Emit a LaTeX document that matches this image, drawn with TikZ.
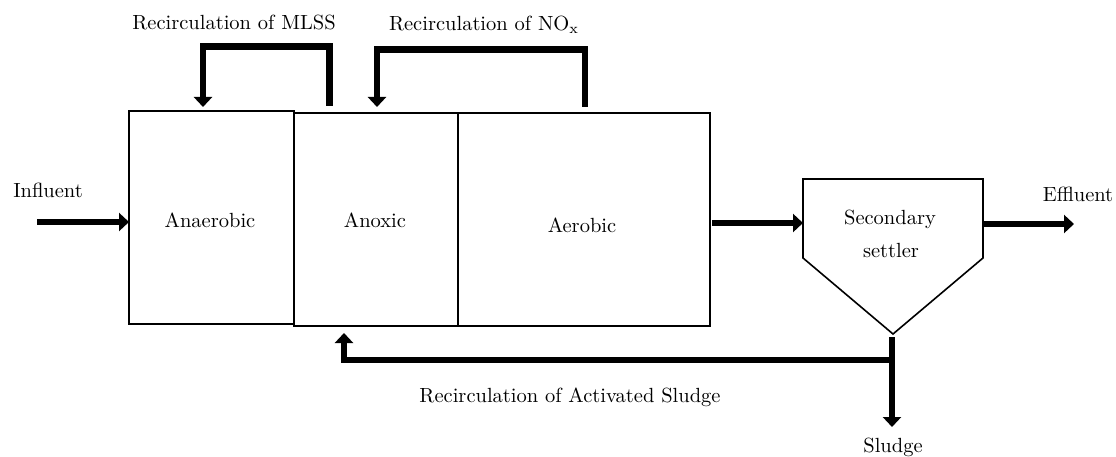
\documentclass[tikz,border=0pt]{standalone}
\usepackage{graphicx}
\usetikzlibrary{arrows.meta}
\newcommand{\bigtxt}[1]{\scalebox{2.05}{#1}}
\begin{document}
\begin{tikzpicture}[x=1pt,y=-1pt,
  tank/.style={draw,line width=1.8pt,inner sep=0pt,outer sep=0pt},
  flow/.style={line width=6.5pt,line join=miter,-{Triangle[width=18pt,length=10pt]}},
  lbl/.style={anchor=base,inner sep=0pt}]
\useasboundingbox (0,0) rectangle (1116,457);

% reactor tanks
\node[tank,minimum width=165pt,minimum height=213pt] (anaerobic) at (211.5,217.5) {};
\node[tank,minimum width=164pt,minimum height=213pt] (anoxic) at (376,219.5) {};
\node[tank,minimum width=252pt,minimum height=213pt] (aerobic) at (584,219.5) {};

% secondary settler (hopper outline)
\draw[line width=1.6pt,line join=miter] (803,179) -- (983,179) -- (983,258) -- (893,334) -- (803,258) -- cycle;
\coordinate (settlerW) at (803,223);
\coordinate (settlerE) at (983,224);
\coordinate (settlerTip) at (892,337);

% labels
\node[lbl] (tA) at (210,228) {\bigtxt{Anaerobic}};
\node[lbl] (tB) at (375,228) {\bigtxt{Anoxic}};
\node[lbl] (tC) at (582,233) {\bigtxt{Aerobic}};
\node[lbl] (tS1) at (890,225) {\bigtxt{Secondary}};
\node[lbl] (tS2) at (891,257) {\bigtxt{settler}};
\node[lbl] (tIn) at (48,197) {\bigtxt{Influent}};
\node[lbl] (tOut) at (1078,202) {\bigtxt{Effluent}};
\node[lbl] (tMLSS) at (234,30) {\bigtxt{Recirculation of MLSS}};
\node[lbl] (tNOx) at (484,30.5) {\bigtxt{Recirculation of NO$_\mathrm{x}$}};
\node[lbl] (tRAS) at (570,402) {\bigtxt{Recirculation of Activated Sludge}};
\node[lbl] (tSl) at (893,452) {\bigtxt{Sludge}};

% main flow line
\coordinate (inStart) at (37,222);
\draw[flow] (inStart) -- (inStart -| anaerobic.west);
\coordinate (aerOut) at (712,223);
\draw[flow] (aerOut) -- (settlerW);
\coordinate (effEnd) at (1074,224);
\draw[flow] (settlerE) -- (effEnd);

% internal recycles
\coordinate (mlssFrom) at (329.5,106);
\coordinate (mlssTo) at (203,107);
\draw[flow] (mlssFrom) -- (329.5,46.5) -- (203,46.5) -- (mlssTo);
\coordinate (noxFrom) at (585,107);
\coordinate (noxTo) at (377,107);
\draw[flow] (noxFrom) -- (585,49.5) -- (377,49.5) -- (noxTo);

% sludge withdrawal and return activated sludge
\coordinate (sludgeEnd) at (892,427);
\draw[flow] (settlerTip) -- (sludgeEnd);
\coordinate (rasJoin) at (892,360);
\coordinate (rasTo) at (344,333);
\draw[flow] (rasJoin) -- (rasTo |- rasJoin) -- (rasTo);
\end{tikzpicture}
\end{document}
